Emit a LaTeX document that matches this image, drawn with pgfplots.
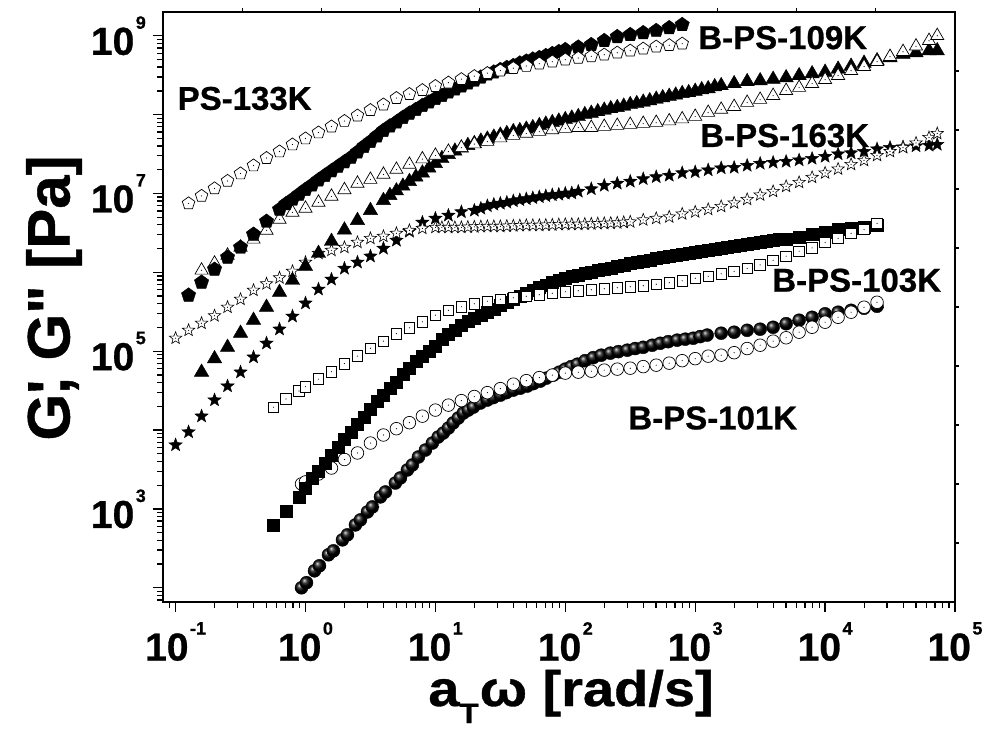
\documentclass[border=0pt]{standalone}
\usepackage{fontspec}
\setmainfont{Liberation Sans}[Ligatures=TeXOff, BoldFeatures={FakeBold=0.7}]
\usepackage{pgfplots}
\pgfplotsset{compat=1.18}
\usetikzlibrary{plotmarks,calc}

\newcommand{\mkdot}{\pgfpathcircle{\pgfpointorigin}{0.6pt}\pgfsetfillcolor{black}\pgfusepathqfill\pgfsetfillcolor{white}}
\newcommand{\starpath}{%
 \pgfpathmoveto{\pgfpointpolar{90}{\pgfplotmarksize}}%
 \pgfpathlineto{\pgfpointpolar{126}{0.42*\pgfplotmarksize}}%
 \pgfpathlineto{\pgfpointpolar{162}{\pgfplotmarksize}}%
 \pgfpathlineto{\pgfpointpolar{198}{0.42*\pgfplotmarksize}}%
 \pgfpathlineto{\pgfpointpolar{234}{\pgfplotmarksize}}%
 \pgfpathlineto{\pgfpointpolar{270}{0.42*\pgfplotmarksize}}%
 \pgfpathlineto{\pgfpointpolar{306}{\pgfplotmarksize}}%
 \pgfpathlineto{\pgfpointpolar{342}{0.42*\pgfplotmarksize}}%
 \pgfpathlineto{\pgfpointpolar{18}{\pgfplotmarksize}}%
 \pgfpathlineto{\pgfpointpolar{54}{0.42*\pgfplotmarksize}}%
 \pgfpathclose}
\pgfdeclareplotmark{opent}{\pgfuseplotmark{pentagon*}\mkdot}
\pgfdeclareplotmark{otri}{\pgfuseplotmark{triangle*}\mkdot}
\pgfdeclareplotmark{osq}{\pgfuseplotmark{square*}\mkdot}
\pgfdeclareplotmark{ocirc}{\pgfuseplotmark{*}\mkdot}
\pgfdeclareplotmark{fstar}{\starpath\pgfusepathqfillstroke}
\pgfdeclareplotmark{ostar}{\starpath\pgfusepathqfillstroke\mkdot}

\newcommand{\tp}[1]{10\kern1.5pt\raisebox{26pt}{\fontsize{18}{18}\selectfont #1}}

\begin{document}
\begin{tikzpicture}
\begin{axis}[
 name=ax,
 width=792pt, height=590pt, scale only axis,
 xmode=log, ymode=log,
 xmin=0.08, xmax=1e5, ymin=66, ymax=2e9,
 axis line style={line width=1.6pt},
 every tick/.style={black, line width=1.3pt},
 tick align=outside,
 major tick length=10pt, minor tick length=6pt,
 tick pos=left,
 xtick={0.1,1,10,100,1000,10000,100000},
 xticklabels={\tp{-1},\tp{0},\tp{1},\tp{2},\tp{3},\tp{4},\tp{5}},
 ytick={100,1000,1e4,1e5,1e6,1e7,1e8,1e9},
 yticklabels={{},\tp{3},{},\tp{5},{},\tp{7},{},\tp{9}},
 minor xtick={0.09,0.2,0.3,0.4,0.5,0.6,0.7,0.8,0.9,2,3,4,5,6,7,8,9,20,30,40,50,60,70,80,90,200,300,400,500,600,700,800,900,2000,3000,4000,5000,6000,7000,8000,9000,20000,30000,40000,50000,60000,70000,80000,90000},
 minor ytick={70,80,90,200,300,400,500,600,700,800,900,2e3,3e3,4e3,5e3,6e3,7e3,8e3,9e3,2e4,3e4,4e4,5e4,6e4,7e4,8e4,9e4,2e5,3e5,4e5,5e5,6e5,7e5,8e5,9e5,2e6,3e6,4e6,5e6,6e6,7e6,8e6,9e6,2e7,3e7,4e7,5e7,6e7,7e7,8e7,9e7,2e8,3e8,4e8,5e8,6e8,7e8,8e8,9e8},
 xticklabel style={font=\fontsize{39}{39}\selectfont\bfseries, anchor=north, inner sep=0pt, yshift=-10pt},
 yticklabel style={font=\fontsize{39}{39}\selectfont\bfseries, anchor=east, inner sep=0pt, xshift=-7pt},
 xlabel={\scalebox{1.12}[1]{a\raisebox{-17pt}{\fontsize{28}{28}\selectfont T}\kern1pt ω [rad/s]}},
 x label style={font=\fontsize{50}{50}\selectfont\bfseries, at={(axis description cs:0.5152,-0.1763)}, anchor=base, inner sep=0pt},
 ylabel={G\rlap{'}, G" [Pa]},
 y label style={font=\fontsize{60}{60}\selectfont\bfseries, at={(axis description cs:-0.1376,0.5153)}, anchor=center, inner sep=0pt},
]
% B-PS-101K G' (balls)
\addplot[only marks, mark=ball, ball color=black, mark options={ball color=black}, mark size=6.5pt] coordinates {
(0.932,100) (1.018,116) (1.173,164) (1.281,190) (1.503,262) (1.642,294) (1.926,405) (2.104,469) (2.424,627) (2.649,726) (3.0,916) (3.276,1060) (3.776,1420) (4.125,1640) (4.92,2130) (5.38,2470) (6.09,3120) (6.65,3610) (7.40,4550) (8.38,5580) (9.48,6840) (10.5,8150) (11.5,9170) (12.6,1.06e4) (13.7,1.23e4) (15.0,1.42e4) (16.4,1.64e4) (17.9,1.79e4) (19.6,1.95e4) (22.2,2.20e4) (25.1,2.40e4) (27.9,2.58e4) (31.6,2.77e4) (35.2,2.98e4) (39.8,3.21e4) (45.1,3.40e4) (51.0,3.61e4) (56.7,3.88e4) (64.2,4.17e4) (71.4,4.55e4) (80.9,4.97e4) (89.9,5.42e4) (100,5.92e4) (111,6.37e4) (124,6.84e4) (142,7.58e4) (164,8.28e4) (189,8.90e4) (222,9.44e4) (256,9.86e4) (300,1.03e5) (345,1.08e5) (398,1.12e5) (467,1.19e5) (538,1.26e5) (620,1.32e5) (727,1.38e5) (838,1.42e5) (966,1.46e5) (1092,1.53e5) (1236,1.60e5) (1585,1.69e5) (1995,1.74e5) (2512,1.84e5) (3162,1.90e5) (3981,2.01e5) (5012,2.23e5) (6310,2.47e5) (7943,2.69e5) (10000,2.98e5) (12590,3.12e5) (15850,3.30e5) (19950,3.50e5) (25120,3.71e5)
};
% B-PS-101K G''
\addplot[only marks, mark=ocirc, mark size=6.3pt, mark options={fill=white, draw=black, line width=0.7pt}] coordinates {
(0.932,2.07e3) (1,2.20e3) (1.259,2.77e3) (1.585,3.30e3) (1.995,4.23e3) (2.512,5.12e3) (3.162,6.84e3) (3.981,8.65e3) (5.012,1.04e4) (6.31,1.24e4) (7.943,1.50e4) (10,1.79e4) (12.59,2.07e4) (15.85,2.36e4) (19.95,2.66e4) (25.12,2.98e4) (31.62,3.35e4) (39.81,3.82e4) (50.12,4.23e4) (63.1,4.62e4) (79.43,4.97e4) (100,5.27e4) (125.9,5.42e4) (158.5,5.58e4) (199.5,5.75e4) (251.2,5.92e4) (316.2,6.09e4) (398.1,6.37e4) (501.2,6.65e4) (631,7.05e4) (794.3,7.58e4) (1000,8.04e4) (1259,8.65e4) (1585,8.90e4) (1995,9.57e4) (2512,1.08e5) (3162,1.19e5) (3981,1.34e5) (5012,1.48e5) (6310,1.74e5) (7943,2.01e5) (10000,2.33e5) (12590,2.69e5) (15850,3.12e5) (19950,3.61e5) (25120,4.17e5)
};
% B-PS-103K G'
\addplot[only marks, mark=square*, mark size=6pt, mark options={fill=black, draw=black}] coordinates {
(0.567,627) (0.7079,944) (0.8913,1.42e3) (1,1.85e3) (1.122,2.47e3) (1.259,3.03e3) (1.413,3.82e3) (1.585,4.83e3) (1.778,6.09e3) (1.995,7.69e3) (2.239,9.44e3) (2.512,1.19e4) (2.818,1.46e4) (3.162,1.85e4) (3.548,2.30e4) (3.981,2.77e4) (4.467,3.35e4) (5.012,4.06e4) (5.623,5.04e4) (6.31,6.09e4) (7.079,7.36e4) (7.943,8.65e4) (8.913,1.00e5) (10,1.16e5) (11.22,1.42e5) (12.59,1.64e5) (14.13,1.87e5) (15.85,2.13e5) (17.78,2.40e5) (19.95,2.62e5) (22.39,2.86e5) (25.12,3.12e5) (28.18,3.45e5) (31.62,3.82e5) (35.48,4.17e5) (39.81,4.55e5) (44.67,4.97e5) (50.12,5.50e5) (56.23,6.00e5) (63.1,6.46e5) (70.79,6.95e5) (79.43,7.47e5) (89.13,7.92e5) (100,8.40e5) (112.2,8.90e5) (125.9,9.30e5) (141.3,9.71e5) (158.5,1.01e6) (177.8,1.06e6) (199.5,1.09e6) (223.9,1.14e6) (251.2,1.19e6) (281.8,1.24e6) (316.2,1.30e6) (354.8,1.34e6) (398.1,1.40e6) (446.7,1.44e6) (501.2,1.50e6) (562.3,1.55e6) (631,1.60e6) (707.9,1.64e6) (794.3,1.71e6) (891.3,1.77e6) (1000,1.82e6) (1122,1.87e6) (1259,1.93e6) (1413,1.98e6) (1585,2.04e6) (1778,2.10e6) (1995,2.16e6) (2239,2.23e6) (2512,2.30e6) (2818,2.36e6) (3162,2.43e6) (3548,2.47e6) (3981,2.54e6) (4467,2.62e6) (5012,2.66e6) (6310,2.77e6) (7943,3.03e6) (10000,3.21e6) (12590,3.50e6) (15850,3.61e6) (19950,3.77e6) (25120,3.94e6)
};
% B-PS-103K G''
\addplot[only marks, mark=osq, mark size=5.3pt, mark options={fill=white, draw=black, line width=0.7pt}] coordinates {
(0.567,1.95e4) (0.7079,2.47e4) (0.8913,3.12e4) (1,3.55e4) (1.259,4.42e4) (1.585,5.50e4) (1.995,6.95e4) (2.512,8.65e4) (3.162,1.09e5) (3.981,1.34e5) (5.012,1.67e5) (6.31,1.98e5) (7.943,2.36e5) (10,2.86e5) (12.59,3.30e5) (15.85,3.66e5) (19.95,3.99e5) (25.12,4.30e5) (31.62,4.55e5) (39.81,4.75e5) (50.12,4.97e5) (63.1,5.19e5) (79.43,5.42e5) (100,5.66e5) (125.9,5.83e5) (158.5,6.00e5) (199.5,6.18e5) (251.2,6.37e5) (316.2,6.55e5) (398.1,6.75e5) (501.2,7.05e5) (631,7.36e5) (794.3,7.80e5) (1000,8.40e5) (1259,8.90e5) (1585,9.57e5) (1995,1.03e6) (2512,1.12e6) (3162,1.24e6) (3981,1.42e6) (5012,1.60e6) (6310,1.85e6) (7943,2.04e6) (10000,2.40e6) (12590,2.69e6) (15850,3.12e6) (19950,3.50e6) (25120,4.17e6)
};
% B-PS-163K G'
\addplot[only marks, mark=fstar, mark size=7pt, mark options={fill=black, draw=black}] coordinates {
(0.1,6.46e3) (0.1259,9.44e3) (0.1585,1.50e4) (0.1995,2.40e4) (0.2512,3.61e4) (0.3162,5.42e4) (0.3981,8.40e4) (0.5012,1.26e5) (0.631,1.90e5) (0.7943,2.77e5) (1,4.06e5) (1.259,6.09e5) (1.585,8.15e5) (1.995,1.12e6) (2.512,1.34e6) (3.162,1.60e6) (3.981,2.01e6) (5.012,2.54e6) (6.31,3.30e6) (7.943,4.30e6) (10,4.83e6) (12.59,5.27e6) (15.85,5.83e6) (19.95,6.09e6) (22.39,6.46e6) (25.12,6.95e6) (28.18,7.26e6) (31.62,7.47e6) (35.48,7.69e6) (39.81,8.03e6) (44.67,8.28e6) (50.12,8.52e6) (56.23,8.77e6) (63.1,9.04e6) (70.79,9.30e6) (79.43,9.57e6) (89.13,9.71e6) (100,1.00e7) (112.2,1.01e7) (125.9,1.06e7) (158.5,1.14e7) (199.5,1.26e7) (251.2,1.34e7) (316.2,1.42e7) (398.1,1.53e7) (501.2,1.62e7) (631,1.69e7) (794.3,1.82e7) (1000,1.87e7) (1259,1.98e7) (1585,2.10e7) (1995,2.13e7) (2512,2.26e7) (3162,2.40e7) (3981,2.47e7) (5012,2.54e7) (6310,2.65e7) (7943,2.77e7) (10000,2.94e7) (12590,3.16e7) (15850,3.26e7) (19950,3.40e7) (25120,3.66e7) (31620,3.82e7) (39810,3.88e7) (50120,3.99e7) (63100,4.06e7) (73000,4.17e7)
};
% B-PS-163K G''
\addplot[only marks, mark=ostar, mark size=6.5pt, mark options={fill=white, draw=black, line width=0.6pt}] coordinates {
(0.1,1.46e5) (0.1259,1.84e5) (0.1585,2.26e5) (0.1995,2.81e5) (0.2512,3.61e5) (0.3162,4.55e5) (0.3981,5.92e5) (0.5012,7.15e5) (0.631,8.52e5) (0.7943,1.03e6) (1,1.34e6) (1.259,1.74e6) (1.585,1.90e6) (1.995,2.07e6) (2.512,2.40e6) (3.162,2.69e6) (3.981,2.86e6) (5.012,3.12e6) (6.31,3.40e6) (7.943,3.61e6) (10,3.71e6) (11.22,3.71e6) (12.59,3.71e6) (14.13,3.71e6) (15.85,3.71e6) (17.78,3.74e6) (19.95,3.77e6) (22.39,3.80e6) (25.12,3.82e6) (28.18,3.82e6) (31.62,3.82e6) (35.48,3.85e6) (39.81,3.88e6) (44.67,3.91e6) (50.12,3.94e6) (56.23,3.94e6) (63.1,3.94e6) (70.79,3.97e6) (79.43,3.99e6) (89.13,4.03e6) (100,4.06e6) (112.2,4.06e6) (125.9,4.06e6) (141.3,4.09e6) (158.5,4.11e6) (177.8,4.14e6) (199.5,4.17e6) (223.9,4.20e6) (251.2,4.23e6) (281.8,4.30e6) (316.2,4.36e6) (398.1,4.62e6) (501.2,4.83e6) (631,5.04e6) (794.3,5.50e6) (1000,5.83e6) (1259,6.27e6) (1585,6.84e6) (1995,7.58e6) (2512,8.40e6) (3162,9.57e6) (3981,1.06e7) (5012,1.23e7) (6310,1.38e7) (7943,1.60e7) (10000,1.82e7) (12590,2.04e7) (15850,2.33e7) (19950,2.62e7) (25120,3.03e7) (31620,3.40e7) (39810,3.82e7) (50120,4.36e7) (63100,5.12e7) (73000,5.75e7)
};
% B-PS-109K G'
\addplot[only marks, mark=triangle*, mark size=8.3pt, mark options={fill=black, draw=black}] coordinates {
(0.1585,5.42e4) (0.1995,8.04e4) (0.2512,1.12e5) (0.3162,1.69e5) (0.3981,2.47e5) (0.5012,3.61e5) (0.631,5.58e5) (0.7943,7.92e5) (1,1.19e6) (1.259,1.74e6) (1.585,2.47e6) (1.995,3.45e6) (2.512,4.55e6) (3.162,6.09e6) (3.981,8.15e6) (4.467,9.44e6) (5.012,1.08e7) (5.623,1.24e7) (6.31,1.42e7) (7.079,1.62e7) (7.943,1.82e7) (8.913,2.10e7) (10,2.40e7) (11.22,2.77e7) (12.59,3.12e7) (14.13,3.45e7) (15.85,3.77e7) (17.78,4.06e7) (19.95,4.30e7) (22.39,4.62e7) (25.12,4.90e7) (28.18,5.19e7) (31.62,5.50e7) (35.48,5.75e7) (39.81,6.09e7) (44.67,6.27e7) (50.12,6.55e7) (56.23,6.84e7) (63.1,7.26e7) (70.79,7.58e7) (79.43,7.92e7) (89.13,8.28e7) (100,8.65e7) (112.2,9.04e7) (125.9,9.44e7) (141.3,1.00e8) (158.5,1.04e8) (177.8,1.09e8) (199.5,1.14e8) (223.9,1.19e8) (251.2,1.23e8) (281.8,1.28e8) (316.2,1.34e8) (354.8,1.38e8) (398.1,1.44e8) (446.7,1.50e8) (501.2,1.57e8) (562.3,1.64e8) (631,1.71e8) (707.9,1.77e8) (794.3,1.85e8) (891.3,1.90e8) (1000,1.98e8) (1122,2.07e8) (1259,2.13e8) (1413,2.26e8) (1585,2.33e8) (1995,2.47e8) (2512,2.62e8) (3162,2.69e8) (3981,2.81e8) (5012,2.94e8) (6310,3.12e8) (7943,3.30e8) (10000,3.45e8) (12590,3.77e8) (15850,4.11e8) (19950,4.49e8) (25120,4.83e8) (31620,5.27e8) (39810,5.83e8) (50120,6.09e8) (63100,6.46e8) (73000,6.46e8)
};
% B-PS-109K G''
\addplot[only marks, mark=otri, mark size=7.6pt, mark options={fill=white, draw=black, line width=0.7pt}] coordinates {
(0.1585,1.06e6) (0.1995,1.30e6) (0.2512,1.64e6) (0.3162,2.07e6) (0.3981,2.62e6) (0.5012,3.40e6) (0.631,4.69e6) (0.7943,5.75e6) (1,6.46e6) (1.259,7.69e6) (1.585,9.17e6) (1.995,1.11e7) (2.512,1.34e7) (3.162,1.50e7) (3.981,1.74e7) (5.012,2.01e7) (6.31,2.33e7) (7.943,2.73e7) (10,3.03e7) (12.59,3.40e7) (15.85,3.82e7) (19.95,4.23e7) (25.12,4.55e7) (31.62,5.04e7) (39.81,5.42e7) (50.12,5.75e7) (63.1,6.09e7) (79.43,6.37e7) (100,6.65e7) (125.9,6.84e7) (158.5,6.84e7) (199.5,7.05e7) (251.2,7.26e7) (316.2,7.47e7) (398.1,7.69e7) (501.2,7.92e7) (631,8.28e7) (794.3,8.77e7) (1000,9.44e7) (1259,1.06e8) (1585,1.16e8) (1995,1.26e8) (2512,1.42e8) (3162,1.55e8) (3981,1.74e8) (5012,2.01e8) (6310,2.20e8) (7943,2.47e8) (10000,2.77e8) (12590,3.12e8) (15850,3.61e8) (19950,4.06e8) (25120,4.69e8) (31620,5.42e8) (39810,6.27e8) (50120,7.36e8) (63100,8.65e8) (73000,1.0e9)
};
% PS-133K G'
\addplot[only marks, mark=pentagon*, mark size=7.5pt, mark options={fill=black, draw=black}] coordinates {
(0.1259,5.12e5) (0.1585,7.47e5) (0.1995,1.09e6) (0.2512,1.55e6) (0.3162,2.07e6) (0.3981,3.03e6) (0.5012,4.42e6) (0.631,6.27e6) (0.7079,7.37e6) (0.7943,8.40e6) (0.8913,9.71e6) (1,1.12e7) (1.122,1.28e7) (1.259,1.48e7) (1.413,1.69e7) (1.585,1.93e7) (1.778,2.20e7) (1.995,2.51e7) (2.239,2.86e7) (2.512,3.35e7) (2.818,3.94e7) (3.162,4.55e7) (3.548,5.35e7) (3.981,6.27e7) (4.467,7.15e7) (5.012,8.03e7) (5.623,9.17e7) (6.31,1.04e8) (7.079,1.16e8) (7.943,1.30e8) (8.913,1.44e8) (10,1.60e8) (11.22,1.74e8) (12.59,1.93e8) (14.13,2.10e8) (15.85,2.30e8) (17.78,2.51e8) (19.95,2.73e8) (22.39,2.98e8) (25.12,3.26e8) (28.18,3.45e8) (31.62,3.71e8) (35.48,3.94e8) (39.81,4.17e8) (44.67,4.49e8) (50.12,4.75e8) (56.23,5.04e8) (63.1,5.27e8) (70.79,5.58e8) (79.43,5.92e8) (89.13,6.27e8) (100,6.65e8) (125.9,7.15e8) (158.5,7.69e8) (199.5,8.65e8) (251.2,9.71e8) (316.2,1.03e9) (398.1,1.09e9) (501.2,1.16e9) (631,1.26e9) (794.3,1.38e9)
};
% PS-133K G''
\addplot[only marks, mark=opent, mark size=6.6pt, mark options={fill=white, draw=black, line width=0.7pt}] coordinates {
(0.1259,7.47e6) (0.1585,9.30e6) (0.1995,1.157e7) (0.2512,1.44e7) (0.3162,1.79e7) (0.3981,2.26e7) (0.5012,2.81e7) (0.631,3.40e7) (0.7943,4.17e7) (1,4.97e7) (1.259,5.92e7) (1.585,7.05e7) (1.995,8.28e7) (2.512,9.71e7) (3.162,1.14e8) (3.981,1.34e8) (5.012,1.62e8) (6.31,1.82e8) (7.943,2.04e8) (10,2.30e8) (12.59,2.54e8) (15.85,2.81e8) (19.95,3.07e8) (25.12,3.35e8) (31.62,3.61e8) (39.81,3.88e8) (50.12,4.13e8) (63.1,4.42e8) (79.43,4.69e8) (100,4.97e8) (125.9,5.22e8) (158.5,5.48e8) (199.5,5.75e8) (251.2,6.09e8) (316.2,6.46e8) (398.1,6.84e8) (501.2,7.26e8) (631,7.58e8) (794.3,7.93e8)
};
\begin{scope}[every node/.style={font=\fontsize{33}{33}\selectfont\bfseries, anchor=west, inner sep=0pt}]
\node at (axis cs:0.1035,1.60e8) {PS-133K};
\node at (axis cs:1054,9.44e8) {B-PS-109K};
\node at (axis cs:1092,5.42e7) {B-PS-163K};
\node at (axis cs:3910,7.92e5) {B-PS-103K};
\node at (axis cs:305,1.42e4) {B-PS-101K};
\end{scope}
\end{axis}
\foreach \i in {1,...,9} {
 \draw[line width=1.2pt] ($(ax.south east)!\i/10!(ax.north east)$) -- ++(4pt,0);
 \draw[line width=1.2pt] ($(ax.north west)!\i/10!(ax.north east)$) -- ++(0,4pt);
}
\pgfresetboundingbox
\path[use as bounding box] ($(ax.south west)+(-163pt,-131pt)$) rectangle ($(ax.north east)+(35pt,12pt)$);
\end{tikzpicture}
\end{document}
